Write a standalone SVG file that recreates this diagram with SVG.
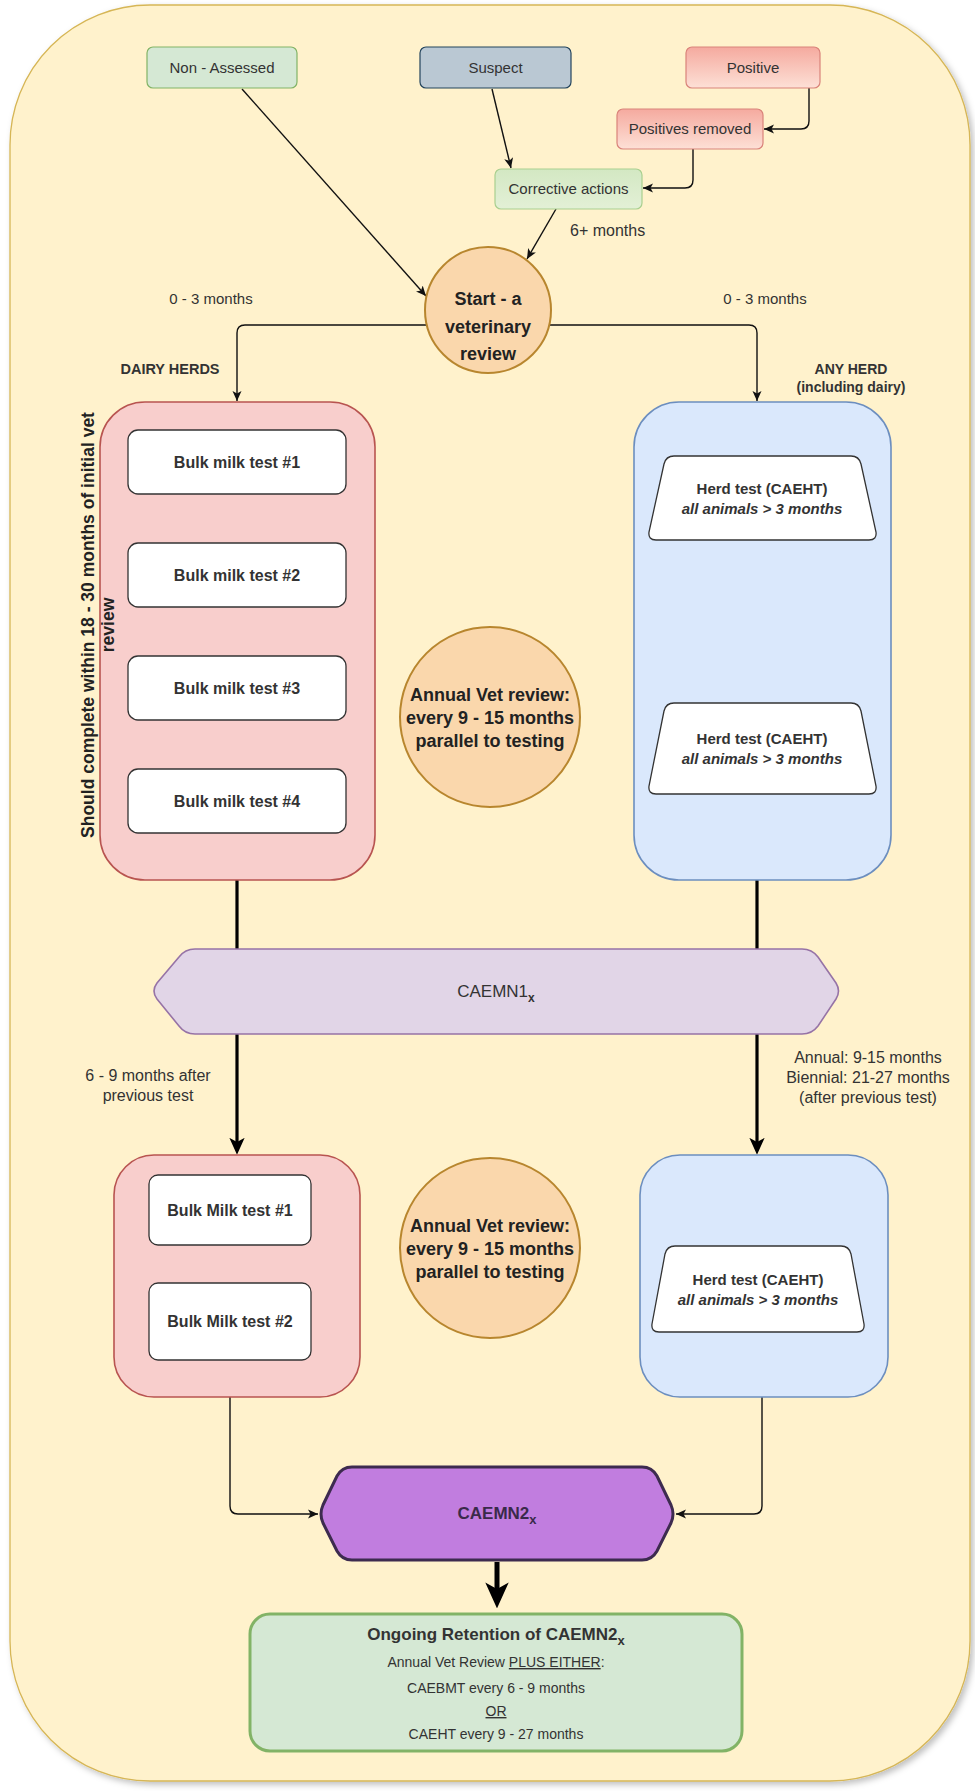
<svg xmlns="http://www.w3.org/2000/svg" width="975" height="1791" viewBox="0 0 975 1791">
<defs>
<style>
text{font-family:"Liberation Sans",Arial,sans-serif;fill:#333;font-size:15px;}
.m{text-anchor:middle;}
.b{font-weight:bold;}
.lb{font-size:16px;}
.sm{font-family:"DejaVu Sans",sans-serif;font-size:10.5px;fill:#333;}
.ln{fill:none;stroke:#111;stroke-width:1.4;}
.thk{fill:none;stroke:#000;stroke-width:3.2;}
.wb{fill:#fff;stroke:#333;stroke-width:1.3;}
.pink{fill:#f8cecc;stroke:#b85450;stroke-width:1.6;}
.blue{fill:#dae8fc;stroke:#6c8ebf;stroke-width:1.6;}
.circ{fill:#fad7ac;stroke:#b8862e;stroke-width:2;}
.ct{font-size:18px;font-weight:bold;fill:#222;text-anchor:middle;}
.bt{font-size:16px;font-weight:bold;text-anchor:middle;}
</style>
<linearGradient id="gPos" x1="0" y1="0" x2="0" y2="1">
<stop offset="0" stop-color="#f5aa9f"/>
<stop offset="1" stop-color="#fde0d6"/>
</linearGradient>
<linearGradient id="gCor" x1="0" y1="0" x2="0" y2="1">
<stop offset="0" stop-color="#d3e8c3"/>
<stop offset="1" stop-color="#e3f0d6"/>
</linearGradient>
<filter id="sh" x="-5%" y="-5%" width="110%" height="110%">
<feDropShadow dx="3" dy="3" stdDeviation="3" flood-color="#000" flood-opacity="0.25"/>
</filter>
<marker id="ar" viewBox="0 0 10 10" refX="10" refY="5" markerWidth="10" markerHeight="10" orient="auto" markerUnits="userSpaceOnUse">
<path d="M0,0.5 L10,5 L0,9.5 L2.5,5 Z" fill="#111"/>
</marker>
<marker id="ak" viewBox="0 0 10 10" refX="6" refY="5" markerWidth="17" markerHeight="17" orient="auto" markerUnits="userSpaceOnUse">
<path d="M0,0.5 L10,5 L0,9.5 L2.5,5 Z" fill="#000"/>
</marker>
<marker id="ah" viewBox="0 0 10 10" refX="6" refY="5" markerWidth="26" markerHeight="26" orient="auto" markerUnits="userSpaceOnUse">
<path d="M0,0.5 L10,5 L0,9.5 L2.5,5 Z" fill="#000"/>
</marker>
</defs>

<g id="background">
<rect x="10" y="5" width="960" height="1776" rx="140" fill="#fff2cc" stroke="#d6b656" stroke-width="1.3" filter="url(#sh)"/>
</g>

<g id="connectors">
<path class="ln" d="M242 89 L426 296" marker-end="url(#ar)"/>
<path class="ln" d="M492 89 L511 168" marker-end="url(#ar)"/>
<path class="ln" d="M809 88 L809 121 Q809 129 801 129 L764 129" marker-end="url(#ar)"/>
<path class="ln" d="M693 149 L693 180 Q693 188 685 188 L643 188" marker-end="url(#ar)"/>
<path class="ln" d="M556 209 L527 259" marker-end="url(#ar)"/>
<path class="ln" d="M426 325 L245 325 Q237 325 237 333 L237 401" marker-end="url(#ar)"/>
<path class="ln" d="M550 325 L749 325 Q757 325 757 333 L757 401" marker-end="url(#ar)"/>
<path class="ln" d="M237 494 L237 542" marker-end="url(#ar)"/>
<path class="ln" d="M237 607 L237 655" marker-end="url(#ar)"/>
<path class="ln" d="M237 720 L237 768" marker-end="url(#ar)"/>
<path class="ln" d="M757 540 L757 702" marker-end="url(#ar)"/>
<path class="thk" d="M237 880 L237 949"/>
<path class="thk" d="M757 880 L757 949"/>
<path class="thk" d="M237 1034 L237 1148" marker-end="url(#ak)"/>
<path class="thk" d="M757 1034 L757 1148" marker-end="url(#ak)"/>
<path class="ln" d="M230 1245 L230 1282" marker-end="url(#ar)"/>
<path class="ln" d="M230 1397 L230 1506 Q230 1514 238 1514 L318 1514" marker-end="url(#ar)"/>
<path class="ln" d="M762 1397 L762 1506 Q762 1514 754 1514 L676 1514" marker-end="url(#ar)"/>
<path fill="none" stroke="#000" stroke-width="5" d="M497 1562 L497 1598" marker-end="url(#ah)"/>
</g>

<g id="connector-labels">
<text class="lb" x="570" y="236">6+ months</text>
<text class="m" x="211" y="304">0 - 3 months</text>
<text class="m" x="765" y="304">0 - 3 months</text>
<text class="m b" x="170" y="374" style="font-size:14.5px">DAIRY HERDS</text>
<text class="m b" x="851" y="374" style="font-size:14px">ANY HERD</text>
<text class="m b" x="851" y="392" style="font-size:14px">(including dairy)</text>
<text class="sm m" x="310" y="518">6-9 months</text>
<text class="sm m" x="310" y="632">6-9 months</text>
<text class="sm m" x="310" y="745">6-9 months</text>
<text class="sm m" x="805" y="607">9 - 27</text>
<text class="sm m" x="805" y="628">months</text>
<text class="m lb" x="148" y="1081">6 - 9 months after</text>
<text class="m lb" x="148" y="1101">previous test</text>
<text class="m lb" x="868" y="1063">Annual: 9-15 months</text>
<text class="m lb" x="868" y="1083">Biennial: 21-27 months</text>
<text class="m lb" x="868" y="1103">(after previous test)</text>
<text class="sm m" x="303" y="1266">6-9 months</text>
</g>

<g id="n-nonassessed">
<rect x="147" y="47" width="150" height="41" rx="6" fill="#d5e8d4" stroke="#82b366" stroke-width="1.2"/>
<text class="m" x="222" y="73">Non - Assessed</text>
</g>
<g id="n-suspect">
<rect x="420" y="47" width="151" height="41" rx="6" fill="#bac8d3" stroke="#23445d" stroke-width="1.2"/>
<text class="m" x="495.5" y="73">Suspect</text>
</g>
<g id="n-positive">
<rect x="686" y="47" width="134" height="41" rx="6" fill="url(#gPos)" stroke="#d9837a" stroke-width="1.2"/>
<text class="m" x="753" y="73">Positive</text>
</g>
<g id="n-removed">
<rect x="617" y="109" width="146" height="40" rx="6" fill="url(#gPos)" stroke="#d9837a" stroke-width="1.2"/>
<text class="m" x="690" y="134">Positives removed</text>
</g>
<g id="n-corrective">
<rect x="495" y="169" width="147" height="40" rx="6" fill="url(#gCor)" stroke="#a9cf8f" stroke-width="1.2"/>
<text class="m" x="568.5" y="194">Corrective actions</text>
</g>

<g id="n-start">
<circle class="circ" cx="488" cy="310" r="63"/>
<text class="ct" x="488" y="305">Start  - a</text>
<text class="ct" x="488" y="333">veterinary</text>
<text class="ct" x="488" y="360">review</text>
</g>

<g id="n-dairy">
<rect class="pink" x="100" y="402" width="275" height="478" rx="45"/>
<text class="m b" transform="translate(94,625) rotate(-90)" style="font-size:17.5px;fill:#222">Should complete within 18 - 30 months of initial vet</text>
<text class="m b" transform="translate(114,625) rotate(-90)" style="font-size:17.5px;fill:#222">review</text>
</g>
<g id="n-bulk1">
<rect class="wb" x="128" y="430" width="218" height="64" rx="10"/>
<text class="bt" x="237" y="468">Bulk milk test #1</text>
</g>
<g id="n-bulk2">
<rect class="wb" x="128" y="543" width="218" height="64" rx="10"/>
<text class="bt" x="237" y="581">Bulk milk test #2</text>
</g>
<g id="n-bulk3">
<rect class="wb" x="128" y="656" width="218" height="64" rx="10"/>
<text class="bt" x="237" y="694">Bulk milk test #3</text>
</g>
<g id="n-bulk4">
<rect class="wb" x="128" y="769" width="218" height="64" rx="10"/>
<text class="bt" x="237" y="807">Bulk milk test #4</text>
</g>

<g id="n-anyherd">
<rect class="blue" x="634" y="402" width="257" height="478" rx="45"/>
</g>
<g id="n-herd1">
<path class="wb" d="M674 456 L851 456 Q859 456 861 464 L876 532 Q877 540 869 540 L656 540 Q648 540 649 532 L664 464 Q666 456 674 456 Z"/>
<text class="m b" x="762" y="494">Herd test (CAEHT)</text>
<text class="m b" x="762" y="514" font-style="italic">all animals &gt; 3 months</text>
</g>
<g id="n-herd2">
<path class="wb" d="M674 703 L851 703 Q859 703 861 711 L876 786 Q877 794 869 794 L656 794 Q648 794 649 786 L664 711 Q666 703 674 703 Z"/>
<text class="m b" x="762" y="744">Herd test (CAEHT)</text>
<text class="m b" x="762" y="764" font-style="italic">all animals &gt; 3 months</text>
</g>

<g id="n-annual1">
<circle class="circ" cx="490" cy="717" r="90"/>
<text class="ct" x="490" y="701">Annual Vet review:</text>
<text class="ct" x="490" y="724">every 9 - 15 months</text>
<text class="ct" x="490" y="747">parallel to testing</text>
</g>

<g id="n-caemn1">
<path d="M195 949 L802 949 Q812 949 818 957 L836 983 Q841 991 836 999 L818 1026 Q812 1034 802 1034 L195 1034 Q185 1034 179 1026 L157 999 Q151 991 157 983 L179 957 Q185 949 195 949 Z" fill="#e1d5e7" stroke="#9673a6" stroke-width="1.6"/>
<text class="m" x="496" y="997" style="font-size:17px">CAEMN1<tspan class="b" font-size="12" dy="5">x</tspan></text>
</g>

<g id="n-dairy2">
<rect class="pink" x="114" y="1155" width="246" height="242" rx="40"/>
</g>
<g id="n-bmt1">
<rect class="wb" x="149" y="1175" width="162" height="70" rx="9"/>
<text class="bt" x="230" y="1216">Bulk Milk test #1</text>
</g>
<g id="n-bmt2">
<rect class="wb" x="149" y="1283" width="162" height="77" rx="9"/>
<text class="bt" x="230" y="1327">Bulk Milk test #2</text>
</g>

<g id="n-annual2">
<circle class="circ" cx="490" cy="1248" r="90"/>
<text class="ct" x="490" y="1232">Annual Vet review:</text>
<text class="ct" x="490" y="1255">every 9 - 15 months</text>
<text class="ct" x="490" y="1278">parallel to testing</text>
</g>

<g id="n-anyherd2">
<rect class="blue" x="640" y="1155" width="248" height="242" rx="40"/>
</g>
<g id="n-herd3">
<path class="wb" d="M675 1246 L841 1246 Q849 1246 851 1254 L864 1324 Q865 1332 857 1332 L659 1332 Q651 1332 652 1324 L665 1254 Q667 1246 675 1246 Z"/>
<text class="m b" x="758" y="1285">Herd test (CAEHT)</text>
<text class="m b" x="758" y="1305" font-style="italic">all animals &gt; 3 months</text>
</g>

<g id="n-caemn2">
<path d="M352 1467 L642 1467 Q652 1467 657 1476 L671 1505 Q675 1514 671 1523 L657 1551 Q652 1560 642 1560 L352 1560 Q342 1560 337 1551 L323 1523 Q319 1514 323 1505 L337 1476 Q342 1467 352 1467 Z" fill="#c17ddf" stroke="#3d2b4f" stroke-width="3"/>
<text class="m b" x="497" y="1519" style="font-size:17px;fill:#3a2a4a">CAEMN2<tspan font-size="13" dy="5">x</tspan></text>
</g>

<g id="n-ongoing">
<rect x="250" y="1614" width="492" height="137" rx="20" fill="#d5e8d4" stroke="#82b366" stroke-width="3"/>
<text class="m b" x="496" y="1640" style="font-size:17px">Ongoing Retention of CAEMN2<tspan font-size="13" dy="5">x</tspan></text>
<text class="m" x="496" y="1667" style="font-size:14px">Annual Vet Review <tspan text-decoration="underline">PLUS EITHER</tspan>:</text>
<text class="m" x="496" y="1693" style="font-size:14px">CAEBMT every 6 - 9 months</text>
<text class="m" x="496" y="1716" style="font-size:14px" text-decoration="underline">OR</text>
<text class="m" x="496" y="1739" style="font-size:14px">CAEHT every 9 - 27 months</text>
</g>
</svg>
